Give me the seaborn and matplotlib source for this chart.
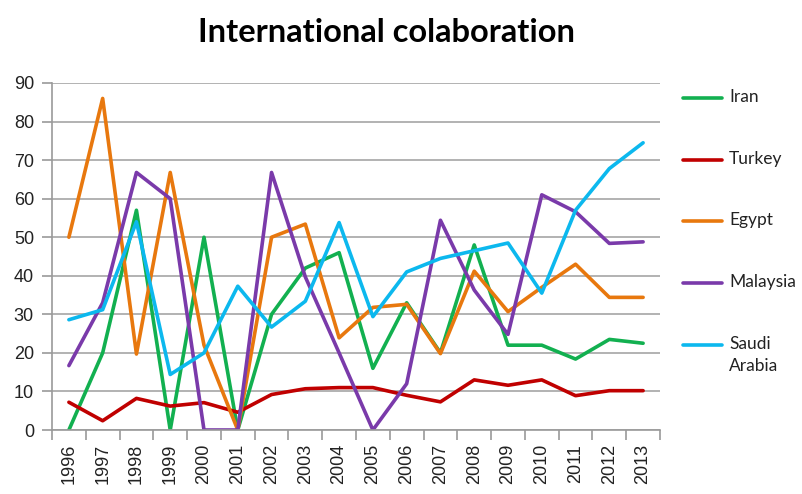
import numpy as np
import pandas as pd
import seaborn as sns
import matplotlib
matplotlib.use("Agg")
import matplotlib.pyplot as plt
from matplotlib.ticker import FixedLocator, MultipleLocator
from matplotlib.lines import Line2D

years = list(range(1996, 2014))
iran = [0, 20, 57, 0, 50, 0, 30, 42, 46, 16, 33, 20, 48, 22, 22, 18.4, 23.5, 22.5]
turkey = [7.2, 2.4, 8.2, 6.2, 7.1, 4.6, 9.2, 10.7, 11, 11, 9, 7.3, 13, 11.6, 13, 8.9, 10.2, 10.2]
egypt = [50, 86, 19.7, 66.8, 22, 0, 50, 53.4, 23.9, 31.8, 32.6, 19.8, 41.2, 30.7, 37, 43, 34.4, 34.4]
malaysia = [16.7, 33, 66.8, 60, 0, 0, 66.8, 39.7, 20, 0, 12, 54.4, 36.3, 24.8, 61, 56.6, 48.4, 48.8]
saudi = [28.6, 31.2, 54, 14.4, 20, 37.3, 26.7, 33.4, 53.8, 29.4, 41, 44.5, 46.5, 48.5, 35.5, 57, 67.8, 74.5]

series_names = ["Iran", "Turkey", "Egypt", "Malaysia", "Saudi\nArabia"]
series_values = [iran, turkey, egypt, malaysia, saudi]
colors = ["#12B050", "#C00000", "#E8780E", "#7A3AAA", "#0CB8EE"]

rows = []
for name, vals in zip(series_names, series_values):
    for i, v in enumerate(vals):
        rows.append({"idx": i, "year": years[i], "value": v, "country": name})
df = pd.DataFrame(rows)

sns.set_theme(style="white")
plt.rcParams["font.family"] = ["Liberation Sans", "DejaVu Sans"]

W, H = 802, 494
fig = plt.figure(figsize=(W / 100, H / 100), dpi=100)
ax = fig.add_axes([52/W, 1-430/H, (660-52)/W, (430-83)/H])

sns.lineplot(data=df, x="idx", y="value", hue="country", palette=colors,
             hue_order=series_names, linewidth=2.6, ax=ax, legend=False)

ax.set_xlim(-0.5, len(years) - 0.5)
ax.set_ylim(0, 90)
ax.yaxis.set_major_locator(MultipleLocator(10))
ax.grid(axis="y", color="#A6A6A6", linewidth=1.2)
ax.set_axisbelow(True)
ax.set_xlabel("")
ax.set_ylabel("")

ax.xaxis.set_major_locator(FixedLocator(list(range(len(years)))))
ax.set_xticklabels([str(y) for y in years], rotation=90, fontsize=13, color="#222222")
ax.xaxis.set_minor_locator(FixedLocator([i - 0.5 for i in range(len(years) + 1)]))
ax.tick_params(axis="x", which="major", length=0, pad=10)
ax.tick_params(axis="x", which="minor", length=7, width=1.2, color="#9A9A9A", direction="out", bottom=True)
ax.tick_params(axis="y", which="major", length=7, width=1.2, color="#9A9A9A", direction="out",
               left=True, labelsize=13, labelcolor="#222222", pad=6)

for s in ["top", "right"]:
    ax.spines[s].set_visible(False)
for s in ["left", "bottom"]:
    ax.spines[s].set_color("#9A9A9A")
    ax.spines[s].set_linewidth(1.2)

# Legend (Excel-style: handle aligned with first text line)
for i, (name, c) in enumerate(zip(series_names, colors)):
    yc = 98 + 61.7 * i
    fig.add_artist(Line2D([683/W, 722/W], [1-yc/H, 1-yc/H], color=c, linewidth=2.6,
                          transform=fig.transFigure))
    lines = name.split("\n")
    fig.text(729/W, 1-(yc - 9)/H, name, ha="left", va="top", family="Lato", fontsize=12.5,
             color="#222222", linespacing=1.45)

fig.text(386/W, 1-42/H, "International colaboration", ha="center", va="baseline",
         fontsize=23.5, fontweight="bold", family="Lato", color="black")

fig.savefig("out.png", dpi=100)
